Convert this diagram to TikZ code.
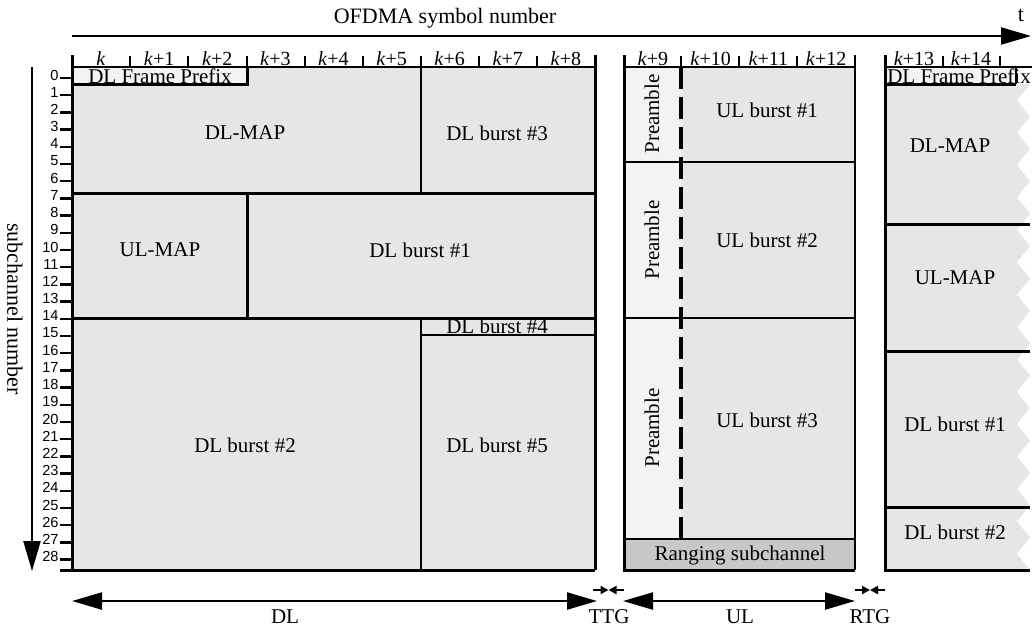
\documentclass[tikz,border=0pt]{standalone}
\usepackage{fontspec}
\setmainfont{Liberation Serif}
\newfontfamily\rowfont{Liberation Sans}
\usetikzlibrary{arrows.meta}
\definecolor{burstgray}{RGB}{230,230,230}
\definecolor{pregray}{RGB}{243,243,243}
\definecolor{ranggray}{RGB}{200,200,200}

\begin{document}
\begin{tikzpicture}[x=0.5pt, y=-0.5pt,
  lbl/.style={font=\fontsize{10.5}{12}\selectfont, inner sep=0pt},
  axlbl/.style={font=\fontsize{11}{13}\selectfont, inner sep=0pt},
  collbl/.style={font=\fontsize{10}{12}\selectfont, inner sep=0pt, anchor=base},
  rowlbl/.style={font=\rowfont\fontsize{7.3}{8}\selectfont, anchor=east, inner sep=0pt},
  edge/.style={line width=1.5pt},
  split/.style={line width=0.9pt},
  coltick/.style={line width=1.2pt},
  dashline/.style={line width=1.6pt, dash pattern=on 11pt off 4pt},
  bigarr/.style={-{Triangle[length=15pt,width=8.5pt]}, line width=1.1pt},
  spanarr/.style={{Triangle[length=15pt,width=8.5pt]}-{Triangle[length=15pt,width=8.5pt]}, line width=1.1pt},
  gaparr/.style={-{Triangle[length=4pt,width=4pt]}, line width=1.1pt}
]
\useasboundingbox (0,0) rectangle (1032,628);

% fills
\fill[burstgray] (72,67) rectangle (595,570);
\fill[pregray]   (72,67) rectangle (247,84);
\fill[burstgray] (624,67) rectangle (855,539);
\fill[pregray]   (624,67) rectangle (681,539);
\fill[ranggray]  (624,539) rectangle (855,570);
\fill[pregray]   (885,67) rectangle (1016,84);
\fill[burstgray] (885,84) -- (1030,84)
  foreach \j in {1,...,15} { -- (1017,{84+32.4*\j-16.2}) -- (1030,{84+32.4*\j}) }
  -- (885,570) -- cycle;

% DL subframe
\draw[split] (72,67) -- (595,67);
\draw[edge] (72,55) -- (72,570);
\draw[edge] (60,570) -- (595,570);
\draw[edge] (595,55) -- (595,570);
\draw[edge] (72,84) -- (247,84) -- (247,67);
\draw[edge] (72,193) -- (595,193);
\draw[edge] (72,318) -- (595,318);
\draw[edge] (247,193) -- (247,318);
\draw[split] (421,67) -- (421,193);
\draw[split] (421,318) -- (421,570);
\draw[split] (421,335) -- (595,335);
\foreach \x in {130,188,247,305,363,421,479,537}
  \draw[coltick] (\x,56) -- (\x,67);

% UL subframe
\draw[split] (624,67) -- (855,67);
\draw[edge] (624,55) -- (624,570) -- (855,570);
\draw[split] (855,55) -- (855,570);
\draw[split] (624,162) -- (855,162);
\draw[split] (624,318) -- (855,318);
\draw[split] (624,539) -- (855,539);
\draw[dashline] (681,67) -- (681,539);
\foreach \x in {681,739,797}
  \draw[coltick] (\x,56) -- (\x,67);

% next frame
\draw[split] (885,67) -- (1032,67);
\draw[edge] (885,55) -- (885,570) -- (1030,570);
\draw[edge] (885,84) -- (1016,84);
\draw[split] (1016,67) -- (1016,84);
\foreach \y in {224,351,507}
  \draw[edge] (885,\y) -- (1030,\y);
\foreach \x in {943,1000}
  \draw[coltick] (\x,56) -- (\x,67);

% symbol numbers
\foreach \i/\t in {0/{\textit{k}},1/{\textit{k}+1},2/{\textit{k}+2},3/{\textit{k}+3},
                   4/{\textit{k}+4},5/{\textit{k}+5},6/{\textit{k}+6},7/{\textit{k}+7},8/{\textit{k}+8}}
  \node[collbl] (c\i) at ({72+58.1*(\i+0.5)},65) {\t};
\foreach \i/\t in {9/{\textit{k}+9},10/{\textit{k}+10},11/{\textit{k}+11},12/{\textit{k}+12}}
  \node[collbl] (c\i) at ({624+57.75*(\i-8.5)},65) {\t};
\node[collbl] (c13) at (914,65) {\textit{k}+13};
\node[collbl] (c14) at (971,65) {\textit{k}+14};

% subchannel numbers
\foreach \i in {0,...,28} {
  \node[rowlbl] (r\i) at (59,{75+17.2*\i}) {\i};
  \draw[coltick] (60,{78+17.2*\i}) -- (72,{78+17.2*\i});
}

% burst labels
\node[lbl] (dfp)   at (160,76)  {DL Frame Prefix};
\node[lbl] (dlmap) at (245,133) {DL-MAP};
\node[lbl] (dlb3)  at (497,133) {DL burst \#3};
\node[lbl] (ulmap) at (160,250) {UL-MAP};
\node[lbl] (dlb1)  at (420,250) {DL burst \#1};
\node[lbl] (dlb4)  at (497,326) {DL burst \#4};
\node[lbl] (dlb2)  at (245,445) {DL burst \#2};
\node[lbl] (dlb5)  at (497,445) {DL burst \#5};
\node[lbl, rotate=90] (pre1) at (652,114) {Preamble};
\node[lbl, rotate=90] (pre2) at (652,240) {Preamble};
\node[lbl, rotate=90] (pre3) at (652,428) {Preamble};
\node[lbl] (ulb1)  at (767,110) {UL burst \#1};
\node[lbl] (ulb2)  at (767,240) {UL burst \#2};
\node[lbl] (ulb3)  at (767,420) {UL burst \#3};
\node[lbl] (rang)  at (740,555) {Ranging subchannel};
\node[lbl] (dfpn)   at (959,76)  {DL Frame Prefix};
\node[lbl] (dlmapn) at (950,146) {DL-MAP};
\node[lbl] (ulmapn) at (955,278) {UL-MAP};
\node[lbl] (dlb1n)  at (955,424) {DL burst \#1};
\node[lbl] (dlb2n)  at (955,532) {DL burst \#2};

% axes
\coordinate (t0) at (72,36);
\coordinate (t1) at (1031,36);
\draw[bigarr] (t0) -- (t1);
\node[axlbl] (symnum) at (445,18) {OFDMA symbol number};
\node[axlbl] (tlbl) at (1021,15) {t};
\coordinate (s0) at (32,67);
\coordinate (s1) at (32,571);
\draw[bigarr] (s0) -- (s1);
\node[axlbl, rotate=-90] (subnum) at (15,309) {subchannel number};

% subframe spans
\coordinate (dl0) at (72,601);
\coordinate (dl1) at (597,601);
\coordinate (ul0) at (623,601);
\coordinate (ul1) at (855,601);
\draw[spanarr] (dl0) -- (dl1);
\draw[spanarr] (ul0) -- (ul1);
\coordinate (ttg0) at (593,590);
\coordinate (ttgc) at (608.5,590);
\coordinate (ttg1) at (624,590);
\draw[gaparr] (ttg0) -- (ttgc);
\draw[gaparr] (ttg1) -- (ttgc);
\coordinate (rtg0) at (855,590);
\coordinate (rtgc) at (870,590);
\coordinate (rtg1) at (885,590);
\draw[gaparr] (rtg0) -- (rtgc);
\draw[gaparr] (rtg1) -- (rtgc);
\node[lbl] (dllbl)  at (285,617) {DL};
\node[lbl] (ttglbl) at (609,617) {TTG};
\node[lbl] (ullbl)  at (740,617) {UL};
\node[lbl] (rtglbl) at (870,617) {RTG};
\end{tikzpicture}
\end{document}
